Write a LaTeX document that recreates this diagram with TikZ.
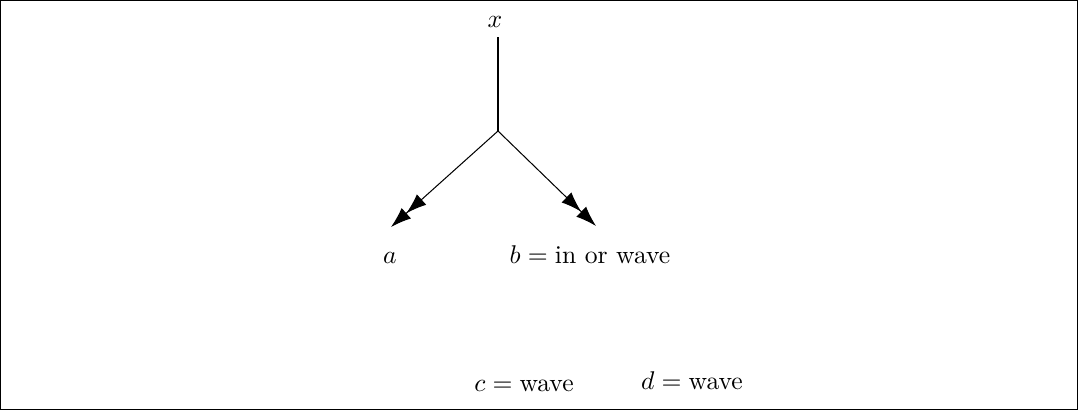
\documentclass[tikz,border=0pt]{standalone}
\usetikzlibrary{arrows.meta}
\begin{document}
\begin{tikzpicture}[x=0.39pt,y=-0.39pt,
  lbl/.style={inner sep=0pt,anchor=base},
  dbl/.style={-{Latex[length=8pt,width=5.5pt]Latex[length=8pt,width=5.5pt]}},
  line width=0.4pt]
\draw (0.5,0.5) rectangle (1077.5,409.5);
\node[lbl] (x) at (495,27) {$x$};
\coordinate (top) at (498,37);
\coordinate (j) at (498,131);
\coordinate (ta) at (391,227);
\coordinate (tb) at (596,226);
\node[lbl] (a) at (390,263) {$a$};
\node[lbl] (b) at (590,263) {$b=\mbox{in or wave}$};
\node[lbl] (c) at (524,391) {$c=\mbox{wave}$};
\node[lbl] (d) at (692,389) {$d=\mbox{wave}$};
\draw (top) -- (j);
\draw[dbl] (j) -- (ta);
\draw[dbl] (j) -- (tb);
\end{tikzpicture}
\end{document}
